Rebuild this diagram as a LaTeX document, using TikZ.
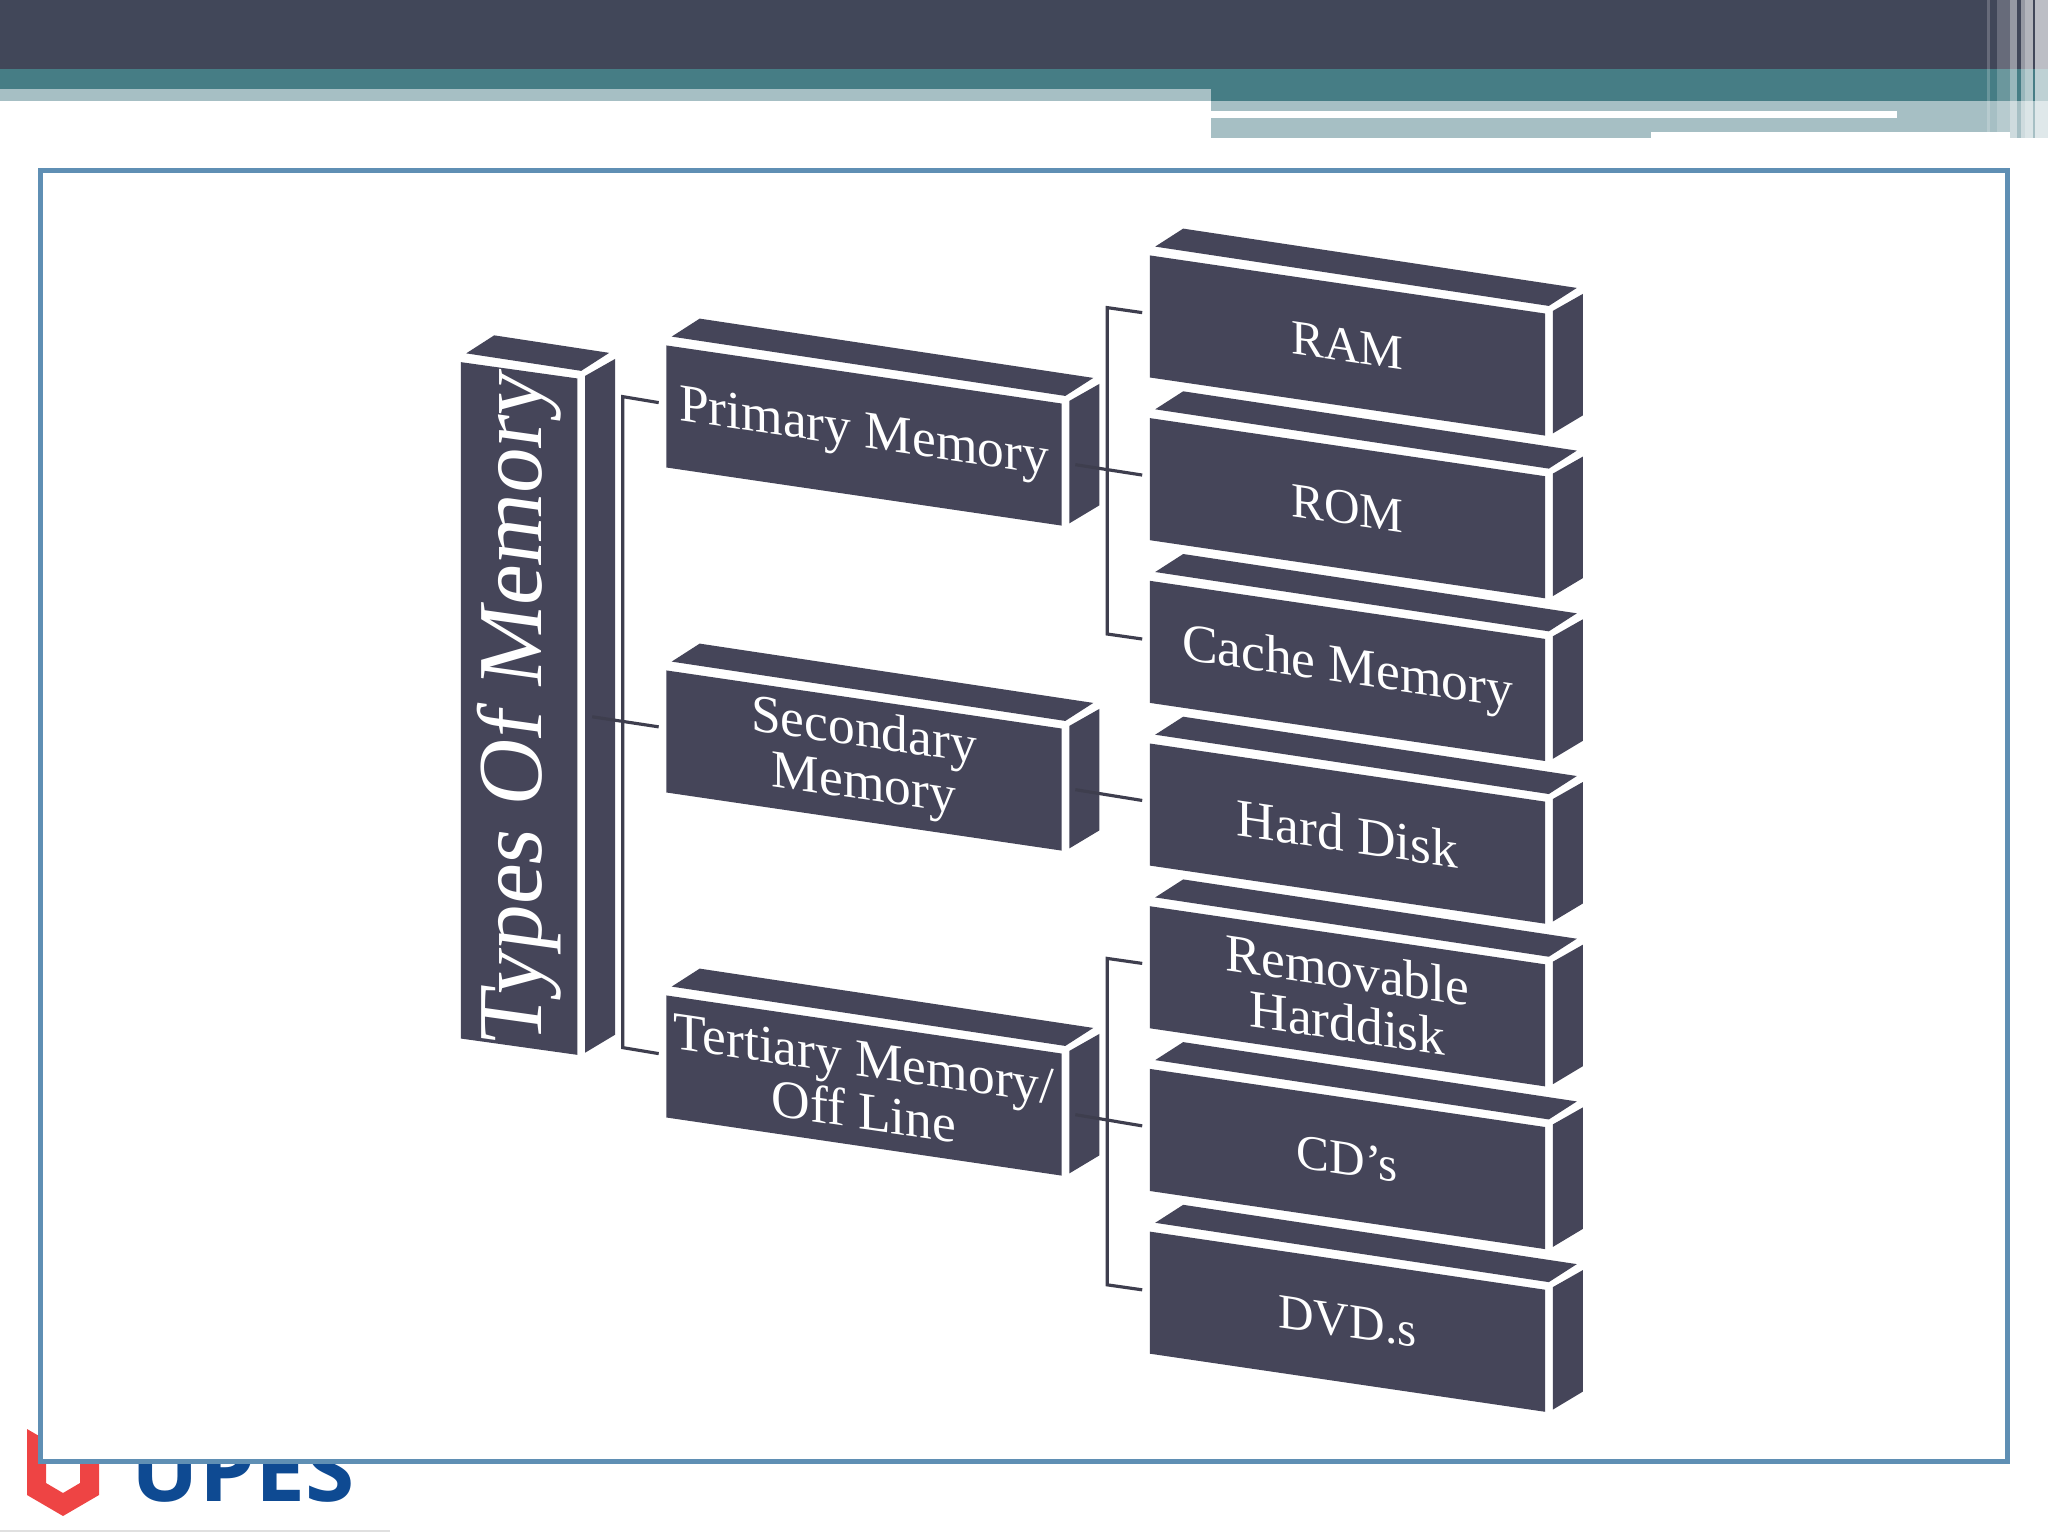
\documentclass[tikz,border=0pt]{standalone}
\usepackage{fontspec}
\setmainfont{Liberation Serif}
\newfontfamily\logofont{Open Sans}
\usetikzlibrary{calc}
\definecolor{Slate}{HTML}{454559}
\definecolor{Band}{HTML}{414759}
\definecolor{Teal}{HTML}{467D85}
\definecolor{Mist}{HTML}{A6BFC4}
\definecolor{Frame}{HTML}{5F8FB4}
\definecolor{Wire}{HTML}{3E3E4E}
\definecolor{Shield}{HTML}{EE4444}
\definecolor{Logo}{HTML}{0E4A92}
\newcommand{\boxfaces}[1]{%
  \fill[Slate] ($(#1.north west)+(6,-8)$)--($(#1.north west)+(34,-26)$)--($(#1.north east)+(31,-25)$)--($(#1.north east)+(3,-7)$)--cycle;
  \fill[Slate] ($(#1.north east)+(7,-2)$)--($(#1.north east)+(37,-19)$)--($(#1.south east)+(37,-21)$)--($(#1.south east)+(7,-3)$)--cycle;
}
\tikzset{
  front/.style={fill=Slate,text=white,align=center,inner sep=0pt},
  leaf/.style={front,yslant=-.147,minimum width=3.95cm,minimum height=1.22cm,font=\fontsize{15.2}{16}\selectfont},
  caps/.style={leaf,font=\fontsize{14}{15}\selectfont},
  root/.style={front,yslant=-.14,minimum width=1.165cm,minimum height=6.76cm,font=\fontsize{26}{27}\selectfont},
  wire/.style={draw=Wire,line width=.9pt},
  stripe/.style={fill=white,fill opacity=#1}
}
\begin{document}
\begin{tikzpicture}[x=.01cm,y=-.01cm]
\useasboundingbox (0,0) rectangle (2048,1536);
% header
\fill[Band] (0,0) rectangle (2048,69);
\fill[Teal] (0,69) rectangle (2048,101);
\fill[Mist] (0,89) rectangle (1211,101);
\fill[Mist] (1211,101) rectangle (2048,138);
\fill[white] (1211,111) rectangle (1897,117.5);
\foreach \xa/\xb/\op in {1987/1990/.2,1997/2010/.2,2010/2017/.45,2021/2025/.45,2025/2033/.6,2035/2048/.65}
  \fill[stripe=\op] (\xa,0) rectangle (\xb,138);
\fill[white] (1651,131.5) rectangle (2010,138);
% logo
\fill[Shield] (27,1429)--(27,1495)--(63,1516)--(99,1495)--(99,1450)--(80,1450)--(80,1483)--(63,1493)--(46,1483)--(46,1440)--cycle;
\node[font=\logofont\bfseries\fontsize{25.4}{25}\selectfont,text=Logo,anchor=base west,inner sep=0pt] (upes) at (131,1501) {UPES};
\draw[draw=black!12,line width=.4pt] (0,1531)--(390,1531);
% frame
\node[draw=Frame,fill=white,line width=1.4pt,minimum width=19.66cm,minimum height=12.905cm,inner sep=0pt] (frame) at (1024.2,816.2) {};

\node[root] (types) at (519.2,708.5) {\rotatebox{90}{Types Of Memory}};
\boxfaces{types}

\node[leaf] (primary) at (864,435.5) {Primary Memory};
\node[leaf] (secondary) at (864,760.5) {Secondary\\[-1pt]Memory};
\node[leaf] (tertiary) at (864,1085.5) {Tertiary Memory/\\[-1pt]Off Line};
\foreach \n in {primary,secondary,tertiary} {\boxfaces{\n}}

\node[caps] (ram) at (1347.5,345.5) {RAM};
\node[caps] (rom) at (1347.5,508.2) {ROM};
\node[leaf] (cache) at (1347.5,670.9) {Cache Memory};
\node[leaf] (hard) at (1347.5,833.6) {Hard Disk};
\node[leaf] (removable) at (1347.5,996.3) {Removable\\[-1pt]Harddisk};
\node[caps] (cd) at (1347.5,1159) {CD’s};
\node[caps] (dvd) at (1347.5,1321.7) {DVD.s};
\foreach \n in {ram,rom,cache,hard,removable,cd,dvd} {\boxfaces{\n}}

% connectors
\draw[wire] ($(primary.north west)+(-7,58)$)--++(-36,-6)--($(tertiary.north west)+(-43,53)$)--($(tertiary.north west)+(-7,59)$);
\draw[wire] ($(types.east)+(14,0)$)--($(secondary.west)+(-7,-4.5)$);
\draw[wire] ($(ram.north west)+(-7,58)$)--++(-35,-5)--($(cache.north west)+(-42,54)$)--($(cache.north west)+(-7,59)$);
\draw[wire] ($(primary.east)+(13,0)$)--($(rom.west)+(-7,-4)$);
\draw[wire] ($(secondary.east)+(13,0)$)--($(hard.west)+(-7,-4)$);
\draw[wire] ($(removable.north west)+(-7,58)$)--++(-35,-5)--($(dvd.north west)+(-42,54)$)--($(dvd.north west)+(-7,59)$);
\draw[wire] ($(tertiary.east)+(13,0)$)--($(cd.west)+(-7,-4)$);
\end{tikzpicture}
\end{document}
